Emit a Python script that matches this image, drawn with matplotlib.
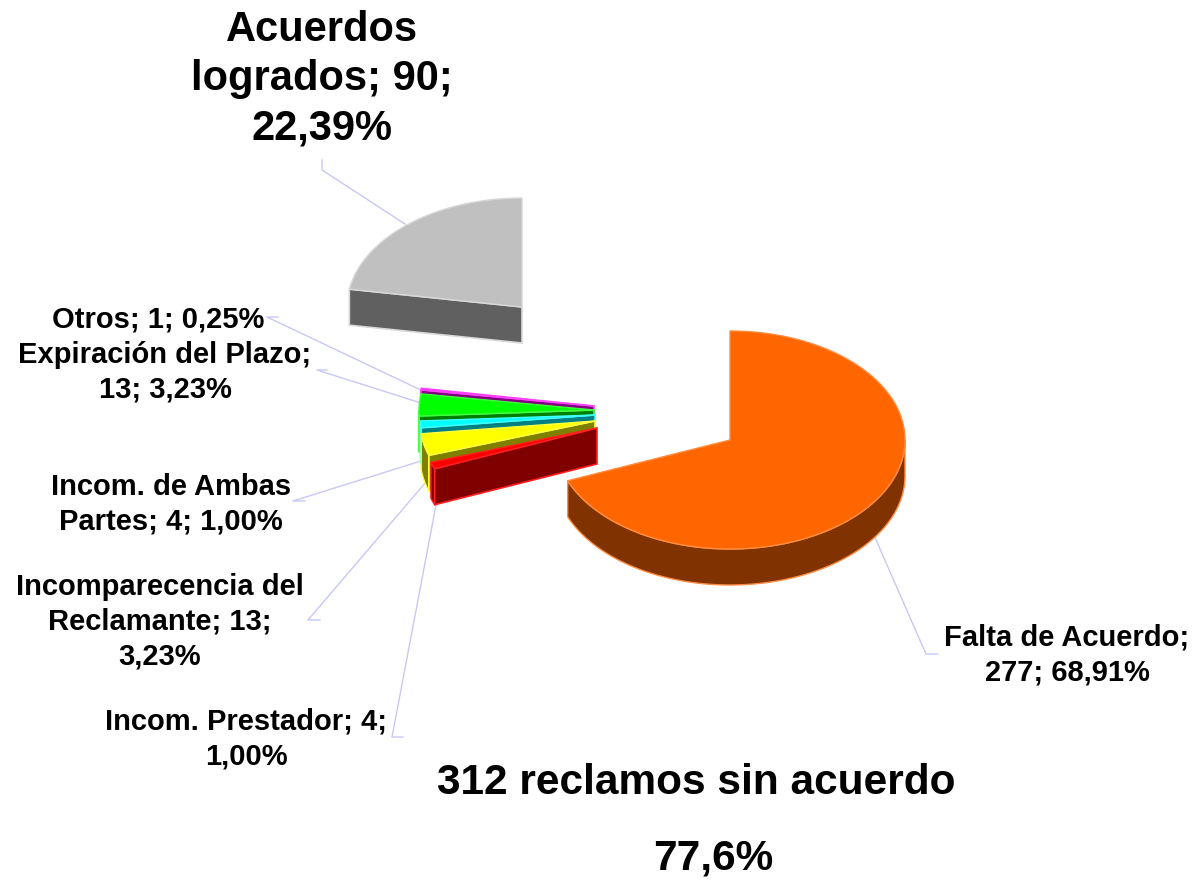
import numpy as np
import matplotlib
matplotlib.use("Agg")
import matplotlib.pyplot as plt
from matplotlib.patches import Polygon

# --- data ---
categorias = ["Falta de Acuerdo", "Incom. Prestador", "Incomparecencia del Reclamante",
              "Incom. de Ambas Partes", "Expiración del Plazo", "Otros", "Acuerdos logrados"]
valores = [277, 4, 13, 4, 13, 1, 90]
colores = ["#FF6600", "#FF0000", "#FFFF00", "#00FFFF", "#00FF00", "#FF00FF", "#C0C0C0"]
sombras = ["#803300", "#800000", "#808000", "#008080", "#008000", "#800080", "#606060"]
bordes = ["#FF8C40", "#FF2020", "#FFFF40", "#40FFFF", "#40FF40", "#FF40FF", "#D8D8D8"]
etiquetas = ["Falta de Acuerdo;\n277; 68,91%", "Incom. Prestador; 4;\n1,00%",
             "Incomparecencia del\nReclamante; 13;\n3,23%", "Incom. de Ambas\nPartes; 4; 1,00%",
             "Expiración del Plazo;\n13; 3,23%", "Otros; 1; 0,25%",
             "Acuerdos\nlogrados; 90;\n22,39%"]
sin_acuerdo = 312
pct_sin_acuerdo = "77,6%"

# --- layout (pixels) ---
W, H = 1195, 883
RX, RY, DEPTH = 175, 109, 36
# slice centre after explosion
centros = [(730, 440), (597, 428), (595, 421), (595, 415), (594, 410), (594, 406), (522, 307)]
# label centre and leader line: label end -> elbow -> slice point
pos_etq = [(1067, 655), (246, 739), (160, 622), (171, 504), (165, 372), (158, 320), (322, 79)]
lineas = [
    [(938, 654), (926, 654), (873, 533)],
    [(403, 737), (392, 737), (436, 505)],
    [(320, 620), (308, 620), (426, 482)],
    [(305, 501), (293, 501), (421, 461)],
    [(327, 370), (317, 370), (421, 403)],
    [(278, 317), (267, 317), (425, 392)],
    [(322, 160), (322, 170), (405, 224)],
]
tam_etq = [21, 21, 21, 21, 21, 21, 30]

plt.rcParams['font.family'] = ['Liberation Sans', 'DejaVu Sans']

fig = plt.figure(figsize=(W / 100, H / 100), dpi=100)
ax = fig.add_axes([0, 0, 1, 1])
ax.set_xlim(0, W)
ax.set_ylim(H, 0)
ax.axis('off')


def pt(cx, cy, a):
    r = np.radians(a)
    return cx + RX * np.cos(r), cy - RY * np.sin(r)


def arco(cx, cy, a1, a2, n=60):
    aa = np.linspace(a1, a2, max(3, int(n * abs(a2 - a1) / 90) + 2))
    return [pt(cx, cy, a) for a in aa]


def dibujar(cx, cy, a1, a2, col, dark, edge):
    # rim (front side only, angles between -180 and 0)
    lo, hi = max(a1, -180), min(a2, 0)
    if lo < hi:
        top = arco(cx, cy, lo, hi)
        bot = [(x, y + DEPTH) for x, y in top[::-1]]
        ax.add_patch(Polygon(top + bot, closed=True, fc=dark, ec=edge, lw=1.0, zorder=2))
    # radial faces
    for a, vis in ((a2, np.cos(np.radians(a2)) < -1e-6), (a1, np.cos(np.radians(a1)) > 1e-6)):
        if vis:
            x, y = pt(cx, cy, a)
            face = [(cx, cy), (x, y), (x, y + DEPTH), (cx, cy + DEPTH)]
            ax.add_patch(Polygon(face, closed=True, fc=dark, ec=edge, lw=1.2, zorder=2))
    # top face
    ax.add_patch(Polygon([(cx, cy)] + arco(cx, cy, a1, a2), closed=True,
                         fc=col, ec=edge, lw=1.0, zorder=2))


total = sum(valores)
angs = []
a = 90.0
for v in valores:
    b = a - 360.0 * v / total
    angs.append((b, a))
    a = b

# draw from back to front
for i in [6, 5, 4, 3, 2, 1, 0]:
    cx, cy = centros[i]
    dibujar(cx, cy, angs[i][0], angs[i][1], colores[i], sombras[i], bordes[i])

for i in range(len(valores)):
    xs, ys = zip(*lineas[i])
    ax.plot(xs, ys, color='#C8C8F5', lw=1.0, zorder=1)
    ax.text(pos_etq[i][0], pos_etq[i][1], etiquetas[i], ha='center', va='center',
            fontsize=tam_etq[i], fontweight='bold', linespacing=1.3, zorder=3)

ax.text(696, 783, f"{sin_acuerdo} reclamos sin acuerdo", ha='center', va='center',
        fontsize=30.5, fontweight='bold')
ax.text(713, 858, pct_sin_acuerdo, ha='center', va='center', fontsize=30.5, fontweight='bold')

fig.savefig('out.png', dpi=100)
